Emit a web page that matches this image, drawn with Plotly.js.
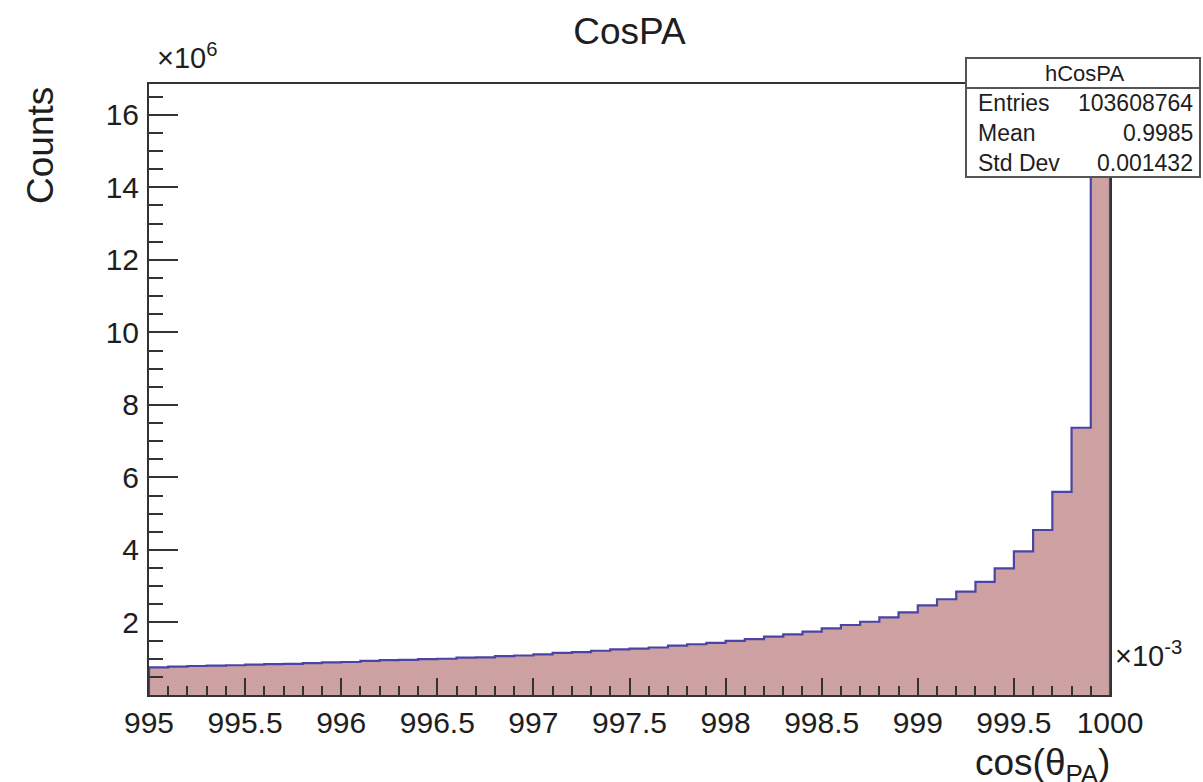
<!DOCTYPE html>
<html>
<head>
<meta charset="utf-8">
<script src="https://cdn.plot.ly/plotly-3.0.1.min.js"></script>
<style>
  html, body { margin: 0; padding: 0; background: #ffffff; }
  #chart { width: 1203px; height: 782px; }
</style>
</head>
<body>
<div id="chart"></div>
<script>
// hCosPA: cosine of the pointing angle, 50 bins from 0.995 to 1.000
// x is expressed in units of 1e-3, counts in units of 1e6
const histName = "hCosPA";
const xMin = 995.0;
const xMax = 1000.0;
const nBins = 50;

const binCounts = [
  0.76, 0.78, 0.80, 0.81, 0.82, 0.84, 0.85, 0.86, 0.88, 0.90,
  0.91, 0.94, 0.96, 0.97, 0.99, 1.00, 1.03, 1.04, 1.07, 1.09,
  1.12, 1.16, 1.18, 1.22, 1.26, 1.28, 1.31, 1.36, 1.40, 1.44,
  1.49, 1.54, 1.61, 1.67, 1.75, 1.84, 1.93, 2.02, 2.14, 2.28,
  2.47, 2.64, 2.85, 3.12, 3.49, 3.96, 4.55, 5.60, 7.37, 16.05
];

const xTickVals = [995, 995.5, 996, 996.5, 997, 997.5, 998, 998.5, 999, 999.5, 1000];
const xTickText = ["995", "995.5", "996", "996.5", "997", "997.5", "998", "998.5", "999", "999.5", "1000"];
const yTickVals = [2, 4, 6, 8, 10, 12, 14, 16];
const yTickText = ["2", "4", "6", "8", "10", "12", "14", "16"];

const statLabels = ["Entries", "Mean", "Std Dev"];
const statValues = ["103608764", "0.9985", "0.001432"];

// bin geometry
const binWidth = (xMax - xMin) / nBins;
const binCenters = binCounts.map((_, i) => xMin + (i + 0.5) * binWidth);

// step outline: closed at both ends down to zero
const stepX = [xMin];
const stepY = [0];
binCounts.forEach((c, i) => { stepX.push(xMin + i * binWidth); stepY.push(c); });
stepX.push(xMax); stepY.push(binCounts[binCounts.length - 1]);
stepX.push(xMax); stepY.push(0);

const FONT = "Liberation Sans, Arial, Helvetica, sans-serif";
const AXIS_COLOR = "#333333";
const TEXT_COLOR = "#1e1e1e";

// pixel helpers for the frame (plot area) used for overlays
const W = 1203, H = 782;
const M = { l: 149, r: 93, t: 84, b: 87 };
const plotW = W - M.l - M.r;
const plotH = H - M.t - M.b;
const px = x => (x - M.l) / plotW;
const py = y => (H - M.b - y) / plotH;

const fillTrace = {
  type: "bar",
  x: binCenters,
  y: binCounts,
  width: binWidth,
  marker: {
    color: "#d6acac",
    line: { width: 0 },
    pattern: { shape: ".", fgcolor: "#a55a5a", bgcolor: "#e6caca", size: 2, solidity: 0.35 }
  },
  hoverinfo: "skip",
  showlegend: false
};

const outlineTrace = {
  type: "scatter",
  mode: "lines",
  x: stepX,
  y: stepY,
  line: { shape: "hv", color: "#4a44a6", width: 2.2 },
  hoverinfo: "skip",
  showlegend: false
};

const annotations = [
  { text: "×10<sup>6</sup>", xref: "paper", yref: "paper", x: px(155), y: py(76),
    xanchor: "left", yanchor: "bottom", showarrow: false, font: { family: FONT, size: 29, color: TEXT_COLOR } },
  { text: "×10<sup>-3</sup>", xref: "paper", yref: "paper", x: px(1113), y: py(654),
    xanchor: "left", yanchor: "middle", showarrow: false, font: { family: FONT, size: 29, color: TEXT_COLOR } },
  { text: "Counts", xref: "paper", yref: "paper", x: px(40), y: py(146), textangle: -90,
    xanchor: "center", yanchor: "middle", showarrow: false, font: { family: FONT, size: 37, color: TEXT_COLOR } },
  { text: "cos(θ<sub>PA</sub>)", xref: "paper", yref: "paper", x: px(1112), y: py(740),
    xanchor: "right", yanchor: "top", showarrow: false, font: { family: FONT, size: 37, color: TEXT_COLOR } },
  { text: histName, xref: "paper", yref: "paper", x: px(1084), y: py(73),
    xanchor: "center", yanchor: "middle", showarrow: false, font: { family: FONT, size: 22, color: TEXT_COLOR } }
];

statLabels.forEach((lab, i) => {
  const yy = 103 + i * 30;
  annotations.push({ text: lab, xref: "paper", yref: "paper", x: px(976), y: py(yy),
    xanchor: "left", yanchor: "middle", showarrow: false, font: { family: FONT, size: 23, color: TEXT_COLOR } });
  annotations.push({ text: statValues[i], xref: "paper", yref: "paper", x: px(1195), y: py(yy),
    xanchor: "right", yanchor: "middle", showarrow: false, font: { family: FONT, size: 23, color: TEXT_COLOR } });
});

const shapes = [
  { type: "rect", xref: "paper", yref: "paper", x0: px(966), x1: px(1200), y0: py(177), y1: py(58),
    fillcolor: "#ffffff", line: { color: "#555555", width: 2 }, layer: "above" },
  { type: "line", xref: "paper", yref: "paper", x0: px(966), x1: px(1200), y0: py(88), y1: py(88),
    line: { color: "#555555", width: 2 }, layer: "above" }
];

const layout = {
  width: W, height: H,
  margin: M,
  paper_bgcolor: "#ffffff",
  plot_bgcolor: "#ffffff",
  bargap: 0,
  title: { text: "CosPA", x: 0.5, xref: "paper", y: 1 - 31 / H, yanchor: "middle",
    font: { family: FONT, size: 37, color: TEXT_COLOR } },
  xaxis: {
    range: [xMin, xMax],
    tickmode: "array", tickvals: xTickVals, ticktext: xTickText,
    ticks: "inside", ticklen: 17, tickwidth: 2, tickcolor: AXIS_COLOR,
    minor: { dtick: binWidth, ticks: "inside", ticklen: 9, tickwidth: 2, tickcolor: AXIS_COLOR, showgrid: false },
    showline: true, linecolor: AXIS_COLOR, linewidth: 2, mirror: true,
    showgrid: false, zeroline: false,
    tickfont: { family: FONT, size: 30, color: TEXT_COLOR },
    ticklabelstandoff: 0
  },
  yaxis: {
    range: [0, 16.85],
    tickmode: "array", tickvals: yTickVals, ticktext: yTickText,
    ticks: "inside", ticklen: 29, tickwidth: 2, tickcolor: AXIS_COLOR,
    minor: { dtick: 0.5, tick0: 0, ticks: "inside", ticklen: 14, tickwidth: 2, tickcolor: AXIS_COLOR, showgrid: false },
    showline: true, linecolor: AXIS_COLOR, linewidth: 2, mirror: true,
    showgrid: false, zeroline: false,
    tickfont: { family: FONT, size: 30, color: TEXT_COLOR },
    ticklabelstandoff: 2
  },
  annotations: annotations,
  shapes: shapes
};

Plotly.newPlot("chart", [fillTrace, outlineTrace], layout, { staticPlot: true, displayModeBar: false });
</script>
</body>
</html>
